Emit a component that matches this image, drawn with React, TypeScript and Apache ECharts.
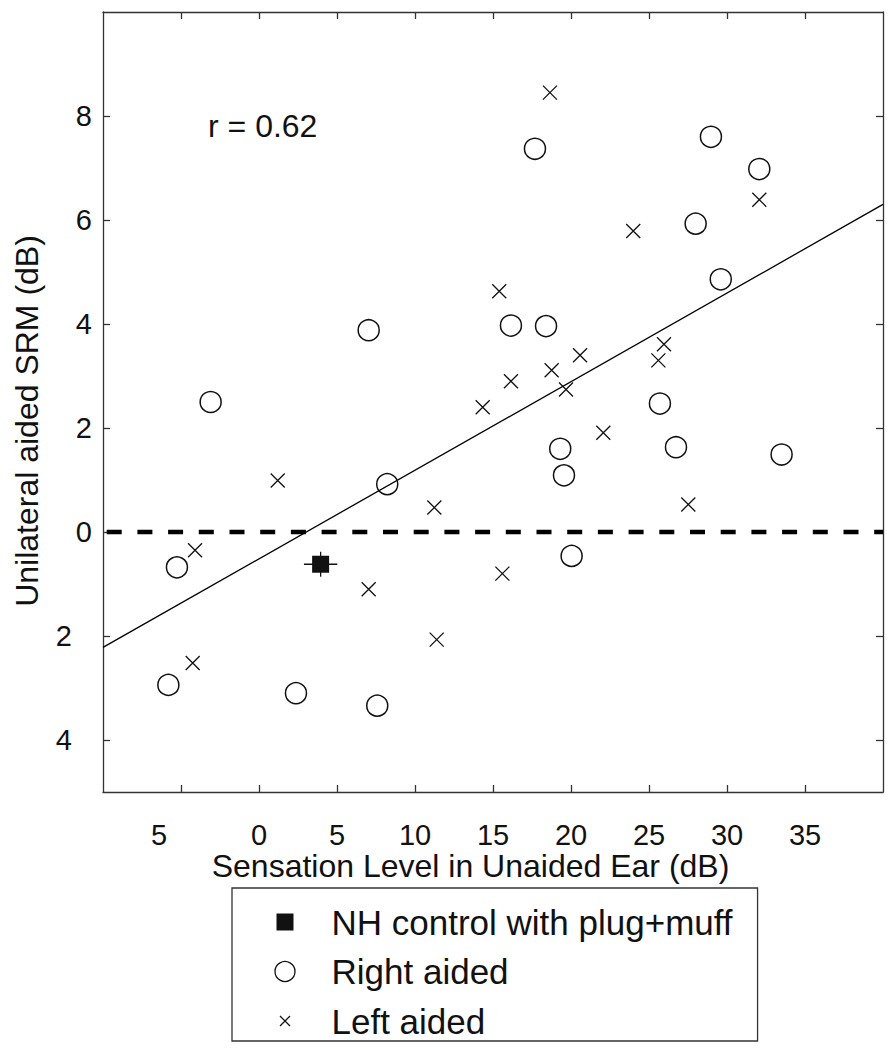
import React, { useEffect, useRef } from 'react';
import * as echarts from 'echarts';

const FONT = "'Liberation Sans', Arial, sans-serif";

const xTicks = [-5, 0, 5, 10, 15, 20, 25, 30, 35];
const yTicks = [-4, -2, 0, 2, 4, 6, 8];

const rightX = [-3.1, -5.26, -5.81, 2.37, 7.58, 7.03, 8.22, 16.15, 18.4, 17.69, 19.31, 19.55, 20.04, 25.7, 26.73, 27.99, 28.97, 29.6, 32.07, 33.5];
const rightY = [2.5, -0.68, -2.94, -3.1, -3.34, 3.88, 0.92, 3.97, 3.96, 7.37, 1.6, 1.09, -0.46, 2.47, 1.63, 5.93, 7.6, 4.86, 6.98, 1.49];

const leftX = [-4.1, -4.25, 1.2, 7.03, 11.24, 11.39, 14.34, 15.4, 15.6, 16.15, 18.65, 18.76, 19.68, 20.58, 22.07, 23.99, 25.6, 25.96, 27.52, 32.07];
const leftY = [-0.35, -2.52, 0.99, -1.1, 0.47, -2.07, 2.4, 4.63, -0.8, 2.9, 8.45, 3.11, 2.74, 3.4, 1.91, 5.79, 3.3, 3.61, 0.53, 6.39];

const nhX = [3.95];
const nhY = [-0.62];
const nhXErr = [1.07];
const nhYErr = [0.24];

const fitX = [-10, 40];
const fitY = [-2.22, 6.3];

const refX = [-10, 40];
const refY = [0, 0];

const seriesNames = ['NH control with plug+muff', 'Right aided', 'Left aided'];
const rText = 'r = 0.62';
const xTitle = 'Sensation Level in Unaided Ear (dB)';
const yTitle = 'Unilateral aided SRM (dB)';

const CROSS = 'path://M0,0L10,10M10,0L0,10';
const CROSS_LEGEND = 'path://M5,5L15,15M15,5L5,15M0,0M20,20';
const SQUARE_LEGEND = 'path://M1.5,1.5H18.5V18.5H1.5Z M0,0 M20,20';

const AX = '#333';
const INK = '#111';

export default function App() {
  const ref = useRef<HTMLDivElement>(null);
  useEffect(() => {
    document.body.style.margin = '0';
    if (!ref.current) return;
    const chart = echarts.init(ref.current, null, { renderer: 'svg' });
    const negFmt = (v: number) => (v < 0 ? '{n|' + Math.abs(v) + '}' : String(v));
    const axisBase = {
      axisLine: { show: true, onZero: false, lineStyle: { color: AX, width: 1.3 } },
      splitLine: { show: false },
    };
    chart.setOption({
      animation: false,
      grid: { left: 103, top: 12, width: 780, height: 780 },
      xAxis: [
        {
          type: 'value', min: -10, max: 40, interval: 5, position: 'bottom', ...axisBase,
          axisTick: { show: true, inside: true, length: 7, customValues: xTicks, lineStyle: { color: AX, width: 1.3 } },
          axisLabel: {
            customValues: xTicks, formatter: negFmt, margin: 28, color: INK, fontSize: 29, fontFamily: FONT,
            rich: { n: { padding: [0, 44, 0, 0], fontSize: 29, fontFamily: FONT, color: INK } },
          },
        },
        {
          type: 'value', min: -10, max: 40, interval: 5, position: 'top', ...axisBase,
          axisTick: { show: true, inside: true, length: 7, customValues: xTicks, lineStyle: { color: AX, width: 1.3 } },
          axisLabel: { show: false },
        },
      ],
      yAxis: [
        {
          type: 'value', min: -5, max: 10, position: 'left', ...axisBase,
          axisTick: { show: true, inside: true, length: 7, customValues: yTicks, lineStyle: { color: AX, width: 1.3 } },
          axisLabel: {
            customValues: yTicks, formatter: negFmt, margin: 11, color: INK, fontSize: 29, fontFamily: FONT,
            rich: { n: { padding: [0, 20, 0, 0], fontSize: 29, fontFamily: FONT, color: INK } },
          },
        },
        {
          type: 'value', min: -5, max: 10, position: 'right', ...axisBase,
          axisTick: { show: true, inside: true, length: 7, customValues: yTicks, lineStyle: { color: AX, width: 1.3 } },
          axisLabel: { show: false },
        },
      ],
      legend: {
        orient: 'vertical', left: 232, top: 888,
        data: [
          { name: seriesNames[0], icon: SQUARE_LEGEND, itemStyle: { color: INK, borderWidth: 0, opacity: 1 } },
          { name: seriesNames[1], icon: 'circle', itemStyle: { color: 'none', borderColor: INK, borderWidth: 1.3, opacity: 1 } },
          { name: seriesNames[2], icon: CROSS_LEGEND, itemStyle: { color: 'none', borderColor: INK, borderWidth: 1.3, opacity: 1 } },
        ],
        itemWidth: 20, itemHeight: 20, itemGap: 9.5,
        padding: [14, 25, 0, 40.5],
        borderColor: AX, borderWidth: 1.3,
        textStyle: { fontSize: 35, fontFamily: FONT, color: INK, lineHeight: 40, padding: [0, 0, 0, 31.5] },
        selectedMode: false,
      },
      graphic: [
        { type: 'text', x: 208, y: 126, style: { text: rText, fontSize: 32, fontFamily: FONT, fill: INK, align: 'left', verticalAlign: 'middle' } },
        { type: 'text', x: 470.5, y: 866, style: { text: xTitle, fontSize: 32, fontFamily: FONT, fill: INK, align: 'center', verticalAlign: 'middle' } },
        { type: 'text', x: 27, y: 421, rotation: Math.PI / 2, style: { text: yTitle, fontSize: 32, fontFamily: FONT, fill: INK, align: 'center', verticalAlign: 'middle' } },
      ],
      series: [
        {
          type: 'line', silent: true, symbol: 'none', z: 2,
          data: refX.map((x, i) => [x, refY[i]]),
          lineStyle: { color: '#000', width: 4.5, type: [15, 15.7], dashOffset: 27 },
        },
        {
          type: 'line', silent: true, symbol: 'none', z: 2,
          data: fitX.map((x, i) => [x, fitY[i]]),
          lineStyle: { color: '#000', width: 1.3 },
        },
        {
          name: seriesNames[0], type: 'scatter', symbol: 'rect', symbolSize: 17, z: 4,
          data: nhX.map((x, i) => [x, nhY[i]]),
          itemStyle: { color: INK, opacity: 1 },
        },
        {
          type: 'custom', silent: true, z: 3,
          data: nhX.map((x, i) => [x, nhY[i], nhXErr[i], nhYErr[i]]),
          encode: { x: 0, y: 1 },
          renderItem: (params: any, api: any) => {
            const x = api.value(0), y = api.value(1), xe = api.value(2), ye = api.value(3);
            const l = api.coord([x - xe, y]);
            const r = api.coord([x + xe, y]);
            const t = api.coord([x, y + ye]);
            const b = api.coord([x, y - ye]);
            return {
              type: 'group',
              children: [
                { type: 'line', shape: { x1: l[0], y1: l[1], x2: r[0], y2: r[1] }, style: { stroke: INK, lineWidth: 1.3 } },
                { type: 'line', shape: { x1: t[0], y1: t[1], x2: b[0], y2: b[1] }, style: { stroke: INK, lineWidth: 1.3 } },
              ],
            };
          },
        },
        {
          name: seriesNames[1], type: 'scatter', symbol: 'circle', symbolSize: 21, z: 4,
          data: rightX.map((x, i) => [x, rightY[i]]),
          itemStyle: { color: 'none', borderColor: INK, borderWidth: 1.5, opacity: 1 },
        },
        {
          name: seriesNames[2], type: 'scatter', symbol: CROSS, symbolSize: 14, z: 4,
          data: leftX.map((x, i) => [x, leftY[i]]),
          itemStyle: { color: 'none', borderColor: INK, borderWidth: 1.3, opacity: 1 },
        },
      ],
    });
    return () => chart.dispose();
  }, []);
  return <div ref={ref} style={{ width: 896, height: 1050 }} />;
}
